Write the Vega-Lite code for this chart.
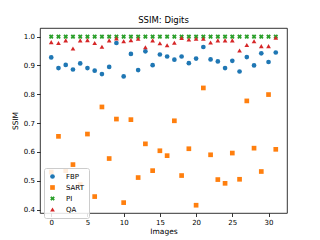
{
  "$schema": "https://vega.github.io/schema/vega-lite/v6.json",
  "autosize": "none",
  "width": 247,
  "height": 185,
  "padding": {"left": 40, "top": 28, "right": 33, "bottom": 27},
  "background": "white",
  "config": {
    "font": "DejaVu Sans",
    "view": {"stroke": "#000", "strokeWidth": 0.8},
    "axis": {"grid": false, "domain": false, "tickColor": "#000", "tickSize": 3.5, "tickWidth": 0.8, "labelFontSize": 7, "labelColor": "#000", "titleFontSize": 7.5, "titleFontWeight": "normal", "titleColor": "#000", "labelPadding": 2}
  },
  "title": {"text": "SSIM: Digits", "fontSize": 8.5, "fontWeight": "normal", "font": "DejaVu Sans", "color": "#000", "offset": 4, "anchor": "middle"},
  "data": {"values": [
    {"i":0,"m":"FBP","v":0.928},{"i":1,"m":"FBP","v":0.891},{"i":2,"m":"FBP","v":0.902},{"i":3,"m":"FBP","v":0.886},{"i":4,"m":"FBP","v":0.907},{"i":5,"m":"FBP","v":0.891},{"i":6,"m":"FBP","v":0.882},{"i":7,"m":"FBP","v":0.870},{"i":8,"m":"FBP","v":0.895},{"i":9,"m":"FBP","v":0.978},{"i":10,"m":"FBP","v":0.862},{"i":11,"m":"FBP","v":0.940},{"i":12,"m":"FBP","v":0.884},{"i":13,"m":"FBP","v":0.949},{"i":14,"m":"FBP","v":0.901},{"i":15,"m":"FBP","v":0.938},{"i":16,"m":"FBP","v":0.931},{"i":17,"m":"FBP","v":0.920},{"i":18,"m":"FBP","v":0.931},{"i":19,"m":"FBP","v":0.908},{"i":20,"m":"FBP","v":0.924},{"i":21,"m":"FBP","v":0.964},{"i":22,"m":"FBP","v":0.921},{"i":23,"m":"FBP","v":0.914},{"i":24,"m":"FBP","v":0.891},{"i":25,"m":"FBP","v":0.916},{"i":26,"m":"FBP","v":0.879},{"i":27,"m":"FBP","v":0.929},{"i":28,"m":"FBP","v":0.900},{"i":29,"m":"FBP","v":0.942},{"i":30,"m":"FBP","v":0.912},{"i":31,"m":"FBP","v":0.945},
    {"i":0,"m":"SART","v":0.530},{"i":1,"m":"SART","v":0.654},{"i":2,"m":"SART","v":0.535},{"i":3,"m":"SART","v":0.556},{"i":4,"m":"SART","v":0.487},{"i":5,"m":"SART","v":0.662},{"i":6,"m":"SART","v":0.445},{"i":7,"m":"SART","v":0.756},{"i":8,"m":"SART","v":0.577},{"i":9,"m":"SART","v":0.714},{"i":10,"m":"SART","v":0.424},{"i":11,"m":"SART","v":0.712},{"i":12,"m":"SART","v":0.511},{"i":13,"m":"SART","v":0.628},{"i":14,"m":"SART","v":0.535},{"i":15,"m":"SART","v":0.604},{"i":16,"m":"SART","v":0.587},{"i":17,"m":"SART","v":0.708},{"i":18,"m":"SART","v":0.518},{"i":19,"m":"SART","v":0.611},{"i":20,"m":"SART","v":0.415},{"i":21,"m":"SART","v":0.822},{"i":22,"m":"SART","v":0.590},{"i":23,"m":"SART","v":0.504},{"i":24,"m":"SART","v":0.491},{"i":25,"m":"SART","v":0.596},{"i":26,"m":"SART","v":0.505},{"i":27,"m":"SART","v":0.777},{"i":28,"m":"SART","v":0.613},{"i":29,"m":"SART","v":0.532},{"i":30,"m":"SART","v":0.799},{"i":31,"m":"SART","v":0.609},
    {"i":0,"m":"PI","v":1.0},{"i":1,"m":"PI","v":1.0},{"i":2,"m":"PI","v":1.0},{"i":3,"m":"PI","v":1.0},{"i":4,"m":"PI","v":1.0},{"i":5,"m":"PI","v":1.0},{"i":6,"m":"PI","v":1.0},{"i":7,"m":"PI","v":1.0},{"i":8,"m":"PI","v":1.0},{"i":9,"m":"PI","v":1.0},{"i":10,"m":"PI","v":1.0},{"i":11,"m":"PI","v":1.0},{"i":12,"m":"PI","v":1.0},{"i":13,"m":"PI","v":1.0},{"i":14,"m":"PI","v":1.0},{"i":15,"m":"PI","v":1.0},{"i":16,"m":"PI","v":1.0},{"i":17,"m":"PI","v":1.0},{"i":18,"m":"PI","v":1.0},{"i":19,"m":"PI","v":1.0},{"i":20,"m":"PI","v":1.0},{"i":21,"m":"PI","v":1.0},{"i":22,"m":"PI","v":1.0},{"i":23,"m":"PI","v":1.0},{"i":24,"m":"PI","v":1.0},{"i":25,"m":"PI","v":1.0},{"i":26,"m":"PI","v":1.0},{"i":27,"m":"PI","v":1.0},{"i":28,"m":"PI","v":1.0},{"i":29,"m":"PI","v":1.0},{"i":30,"m":"PI","v":1.0},{"i":31,"m":"PI","v":1.0},
    {"i":0,"m":"QA","v":0.981},{"i":1,"m":"QA","v":0.978},{"i":2,"m":"QA","v":0.987},{"i":3,"m":"QA","v":0.959},{"i":4,"m":"QA","v":0.987},{"i":5,"m":"QA","v":0.988},{"i":6,"m":"QA","v":0.978},{"i":7,"m":"QA","v":0.965},{"i":8,"m":"QA","v":0.987},{"i":9,"m":"QA","v":0.994},{"i":10,"m":"QA","v":0.984},{"i":11,"m":"QA","v":0.988},{"i":12,"m":"QA","v":0.993},{"i":13,"m":"QA","v":0.963},{"i":14,"m":"QA","v":0.987},{"i":15,"m":"QA","v":0.977},{"i":16,"m":"QA","v":0.970},{"i":17,"m":"QA","v":0.979},{"i":18,"m":"QA","v":0.995},{"i":19,"m":"QA","v":0.990},{"i":20,"m":"QA","v":0.993},{"i":21,"m":"QA","v":0.993},{"i":22,"m":"QA","v":0.980},{"i":23,"m":"QA","v":0.987},{"i":24,"m":"QA","v":0.987},{"i":25,"m":"QA","v":0.987},{"i":26,"m":"QA","v":0.952},{"i":27,"m":"QA","v":0.971},{"i":28,"m":"QA","v":0.984},{"i":29,"m":"QA","v":0.967},{"i":30,"m":"QA","v":0.967},{"i":31,"m":"QA","v":0.996}
  ]},
  "mark": {"type": "point", "filled": true, "opacity": 1, "size": 22},
  "encoding": {
    "x": {"field": "i", "type": "quantitative", "title": "Images",
      "scale": {"domain": [-1.55, 32.55], "nice": false, "zero": false},
      "axis": {"values": [0, 5, 10, 15, 20, 25, 30], "titlePadding": 2}},
    "y": {"field": "v", "type": "quantitative", "title": "SSIM",
      "scale": {"domain": [0.388, 1.030], "nice": false, "zero": false},
      "axis": {"values": [0.4, 0.5, 0.6, 0.7, 0.8, 0.9, 1.0], "format": ".1f", "titlePadding": 4}},
    "color": {"field": "m", "type": "nominal", "title": null,
      "scale": {"domain": ["FBP", "SART", "PI", "QA"], "range": ["#1f77b4", "#ff7f0e", "#2ca02c", "#d62728"]},
      "legend": {"orient": "none", "legendX": 4, "legendY": 140, "labelFontSize": 7, "labelColor": "#000", "symbolSize": 22, "rowPadding": 3, "padding": 5, "strokeColor": "#ccc", "fillColor": "rgba(255,255,255,0.85)", "cornerRadius": 2, "labelOffset": 10, "minSymbolSize": 0}},
    "shape": {"field": "m", "type": "nominal",
      "scale": {"domain": ["FBP", "SART", "PI", "QA"], "range": ["circle", "square", "M-1,-0.45L-0.45,-1L0,-0.55L0.45,-1L1,-0.45L0.55,0L1,0.45L0.45,1L0,0.55L-0.45,1L-1,0.45L-0.55,0Z", "triangle-up"]},
      "legend": null}
  }
}
